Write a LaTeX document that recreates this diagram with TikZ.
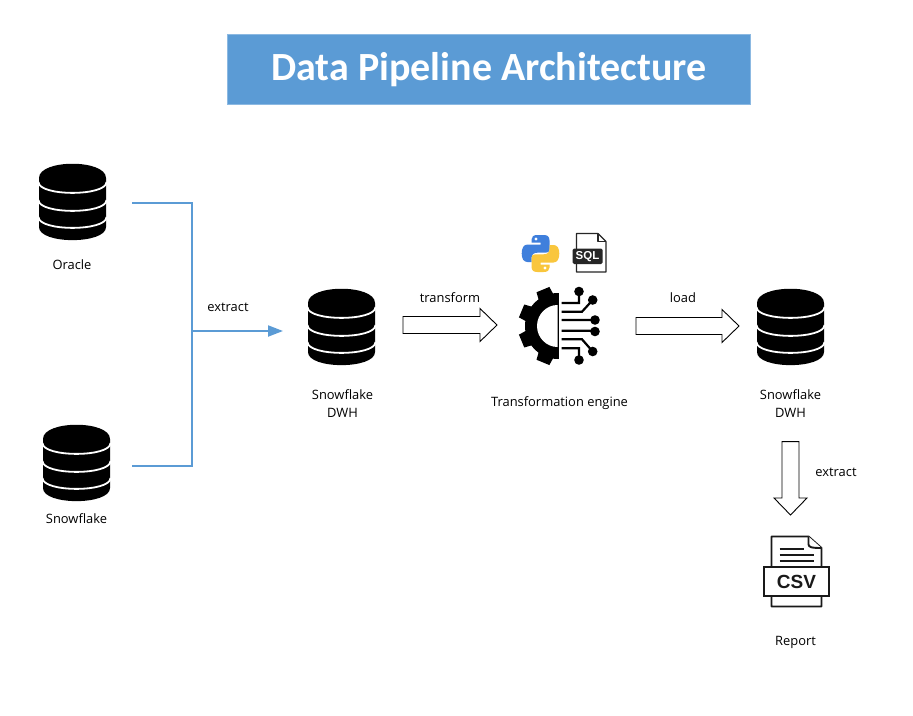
\documentclass[tikz,border=0pt]{standalone}
\usepackage{fontspec}
\setmainfont{Open Sans}
\newfontfamily\titlefont{Carlito}
\newfontfamily\iconfont{Liberation Sans}
\usetikzlibrary{arrows.meta,calc}
\definecolor{pipeblue}{HTML}{5B9BD5}
\definecolor{pyblue}{HTML}{3F7FDC}
\definecolor{pyyellow}{HTML}{F9C63D}
\tikzset{
  iconbox/.style={inner sep=0pt,outer sep=0pt},
  lbl/.style={font=\fontsize{12.9}{18}\selectfont,align=center,inner sep=0pt},
  flowline/.style={draw=pipeblue,line width=2pt},
  blockarrow/.style={draw=black,fill=white,line width=0.9pt,to path={
    ($(\tikztotarget)!17pt!(\tikztostart)$) coordinate (neck)
    ($(\tikztostart)!8.5pt!90:(\tikztotarget)$) -- ($(neck)!8.5pt!90:(\tikztotarget)$)
    -- ($(neck)!16.5pt!90:(\tikztotarget)$) -- (\tikztotarget)
    -- ($(neck)!16.5pt!-90:(\tikztotarget)$) -- ($(neck)!8.5pt!-90:(\tikztotarget)$)
    -- ($(\tikztostart)!8.5pt!-90:(\tikztotarget)$) -- cycle}},
  pics/dbicon/.style={code={
    \fill[black] (-33.5,-24) .. controls (-33.5,-43) and (33.5,-43) .. (33.5,-24)
      -- (33.5,25) .. controls (33.5,42.5) and (-33.5,42.5) .. (-33.5,25) -- cycle;
    \foreach \yb in {-20,-2,15}
      \draw[white,line width=1.8pt] (-34,\yb) .. controls (-34,\yb+14.5) and (34,\yb+14.5) .. (34,\yb);
  }},
  pics/gearicon/.style={code={
    \fill[black] (0,-33) .. controls (-18.2,-33) and (-33,-18.2) .. (-33,0)
      .. controls (-33,18.2) and (-18.2,33) .. (0,33) -- cycle;
    \foreach \a in {112.5,157.5,202.5,247.5}
      \fill[black,line join=round] (\a-15:31) -- (\a-10:40) -- (\a+10:40) -- (\a+15:31) -- cycle;
    \fill[black] (0,-33) rectangle (1.2,33);
    \fill[white] (-0.5,-21) .. controls (-11.6,-21) and (-21,-11.6) .. (-21,0)
      .. controls (-21,11.6) and (-11.6,21) .. (-0.5,21) -- cycle;
    \draw[black,line width=2.2pt]
      (3.7,-23) -- (21,-23) -- (21,-34)
      (3.7,-14.3) -- (24,-14.3) -- (34.7,-26)
      (3.7,-6) -- (37,-6)
      (3.7,4.7) -- (37,4.7)
      (3.7,13.3) -- (24,13.3) -- (34.7,25.5)
      (3.7,22.3) -- (21,22.3) -- (21,34);
    \foreach \dx/\dy in {21/-34.5,34.7/-26,37/-6,37/5.5,34.7/25.5,21/34}
      \fill[black] (\dx,\dy) circle (4.8);
  }},
  pics/pyicon/.style={code={
    \foreach \rot/\col in {0/pyblue,180/pyyellow}{
      \begin{scope}[rotate=\rot]
        \fill[\col] (-3,-18.5) -- (3,-18.5) .. controls (7,-18.5) and (9,-17) .. (9,-13)
          -- (9,-4) .. controls (9,-1.5) and (7.5,-0.8) .. (5,-0.8) -- (-3,-0.8)
          .. controls (-7,-0.8) and (-9,1) .. (-9,5) -- (-9,8.5) -- (-13,8.5)
          .. controls (-17,8.5) and (-18.8,5) .. (-18.8,0) .. controls (-18.8,-5) and (-17,-9) .. (-13,-9)
          -- (0,-9) -- (0,-11) -- (-9,-11) -- (-9,-14) .. controls (-9,-17) and (-7,-18.5) .. (-3,-18.5) -- cycle;
        \fill[white] (-4.5,-14.5) circle (1.7);
      \end{scope}
    }
  }},
  pics/sqlicon/.style={code={
    \draw[black!85,line width=1.1pt,line join=round,fill=white] (-14.5,-19) -- (7,-19) -- (15,-11) -- (15,19.5) -- (-14.5,19.5) -- cycle;
    \draw[black!85,line width=1.1pt,line join=round] (7,-19) -- (7,-11) -- (15,-11);
    \fill[black!85,rounded corners=1.5pt] (-18.5,-4) rectangle (11.5,11.5);
    \node[iconbox,text=white,font=\iconfont\bfseries\fontsize{11.5}{11.5}\selectfont] (sqltext) at (-3.5,3.8) {SQL};
  }},
  pics/csvicon/.style={code={
    \draw[black!90,line width=1.9pt,line join=round,fill=white] (-25,-34.5) -- (12,-34.5) -- (25,-23) -- (25,35.5) -- (-25,35.5) -- cycle;
    \draw[black!90,line width=1.9pt,line join=round,fill=white] (12,-34.5) -- (12,-27) .. controls (12,-24) and (14,-23) .. (25,-23);
    \draw[black!90,line width=1.5pt] (-17,-22) -- (7,-22) (-17,-16) -- (17,-16) (-17,-10) -- (17,-10);
    \draw[black!90,line width=2pt,fill=white] (-32.3,-3.8) rectangle (32.5,24.5);
    \node[iconbox,text=black!90,font=\iconfont\bfseries\fontsize{19}{19}\selectfont] (csvtext) at (0,10.5) {CSV};
  }},
}

\begin{document}
\begin{tikzpicture}[x=1pt,y=-1pt]
    \useasboundingbox[fill=white] (0,0) rectangle (913,715);

    % title
    \node[iconbox,draw=pipeblue!70,fill=pipeblue,minimum width=523,minimum height=70,text=white,font=\titlefont\bfseries\fontsize{40}{40}\selectfont] (title) at (489,69) {\raisebox{0pt}[22pt][0pt]{Data Pipeline Architecture}};

    % sources
    \node[iconbox,minimum width=67,minimum height=76] (oracle) at (72.5,202) {};
    \pic at (oracle) {dbicon};
    \node[lbl] (oraclelbl) at (72,264.5) {Oracle};
    \node[iconbox,minimum width=67,minimum height=76] (snowsrc) at (76.5,463) {};
    \pic at (snowsrc) {dbicon};
    \node[lbl] (snowsrclbl) at (76.5,518.5) {Snowflake};

    % warehouse, engine and target
    \node[iconbox,minimum width=67,minimum height=76] (dwhmid) at (341.5,327) {};
    \pic at (dwhmid) {dbicon};
    \node[lbl] (dwhmidlbl) at (342.5,403.5) {Snowflake\\DWH};
    \node[iconbox,minimum width=80,minimum height=78] (engine) at (558,326) {};
    \pic at (engine) {gearicon};
    \node[lbl] (enginelbl) at (559.5,403) {Transformation engine};
    \node[iconbox,minimum width=37,minimum height=37] (python) at (540.5,253.5) {};
    \pic at (python) {pyicon};
    \node[iconbox,minimum width=30,minimum height=38] (sqlfile) at (591,252.5) {};
    \pic at (sqlfile) {sqlicon};
    \node[iconbox,minimum width=67,minimum height=76] (dwhout) at (790.5,327) {};
    \pic at (dwhout) {dbicon};
    \node[lbl] (dwhoutlbl) at (790.5,403.5) {Snowflake\\DWH};
    \node[iconbox,minimum width=65,minimum height=70] (csvfile) at (796.5,571) {};
    \pic at (csvfile) {csvicon};
    \node[lbl] (csvlbl) at (795.5,642) {Report};

    % extract branch
    \coordinate (oracleout) at (132,203);
    \coordinate (snowout) at (132,466);
    \coordinate (merge) at (192,331);
    \draw[flowline] (oracleout) -| (merge);
    \draw[flowline] (snowout) -| (merge);
    \draw[flowline,-{Triangle[length=15pt,width=11pt]}] (merge) -- ([xshift=-25pt]dwhmid.west |- merge);
    \node[lbl] (extractlbl) at (228,307) {extract};

    % block arrows
    \draw[blockarrow] ([shift={(28,-2)}]dwhmid.east) to ([shift={(-21,-1)}]engine.west);
    \node[lbl] (transformlbl) at (450,298) {transform};
    \draw[blockarrow] ([shift={(38,0)}]engine.east) to ([shift={(-18,-1)}]dwhout.west);
    \node[lbl] (loadlbl) at (683,298) {load};
    \draw[blockarrow] ([yshift=-24pt]dwhoutlbl.south) to ([xshift=-6pt,yshift=21pt]csvfile.north);
    \node[lbl] (extractlbltwo) at (836,472) {extract};
\end{tikzpicture}
\end{document}
